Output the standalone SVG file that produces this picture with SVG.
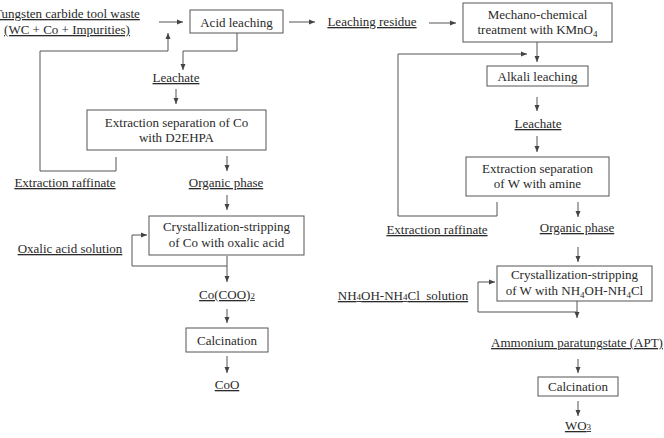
<svg xmlns="http://www.w3.org/2000/svg" width="664" height="438" viewBox="0 0 664 438">
<style>
text{font-family:"Liberation Serif",Tinos,"Times New Roman",Times,"DejaVu Serif",serif;font-size:13px;fill:#2a2a2a;text-anchor:middle}
.u{text-decoration:underline}
.box{fill:#fff;stroke:#555;stroke-width:1}
.c{fill:none;stroke:#555;stroke-width:1}
</style>
<defs>
<marker id="ah" markerWidth="6" markerHeight="6" refX="6" refY="3" orient="auto" markerUnits="userSpaceOnUse">
<path d="M0,0.5 L6,3 L0,5.5 z" fill="#444"/>
</marker>
</defs>
<rect width="664" height="438" fill="#fff"/>
<g id="connectors">
<path class="c" d="M159,22 H183" marker-end="url(#ah)"/>
<path class="c" d="M289,22 H315" marker-end="url(#ah)"/>
<path class="c" d="M237,33 V51 H183 V70" marker-end="url(#ah)"/>
<path class="c" d="M176,89 V104" marker-end="url(#ah)"/>
<path class="c" d="M116,157 V171 H40 V51 H168 V33" marker-end="url(#ah)"/>
<path class="c" d="M227,156 V171" marker-end="url(#ah)"/>
<path class="c" d="M227,195 V210" marker-end="url(#ah)"/>
<path class="c" d="M227,266 H132 V235 H147" marker-end="url(#ah)"/>
<path class="c" d="M227,256 V282" marker-end="url(#ah)"/>
<path class="c" d="M227,309 V323" marker-end="url(#ah)"/>
<path class="c" d="M227,356 V373" marker-end="url(#ah)"/>
<path class="c" d="M429,23 H456" marker-end="url(#ah)"/>
<path class="c" d="M537,42 V62" marker-end="url(#ah)"/>
<path class="c" d="M497,202 V216 H398 V54 H527" marker-end="url(#ah)"/>
<path class="c" d="M537,97 V111" marker-end="url(#ah)"/>
<path class="c" d="M537,136 V152" marker-end="url(#ah)"/>
<path class="c" d="M578,202 V217" marker-end="url(#ah)"/>
<path class="c" d="M578,247 V262" marker-end="url(#ah)"/>
<path class="c" d="M577,312 H478 V282 H495" marker-end="url(#ah)"/>
<path class="c" d="M577,301 V318" marker-end="url(#ah)"/>
<path class="c" d="M578,359 V373" marker-end="url(#ah)"/>
<path class="c" d="M578,401 V416" marker-end="url(#ah)"/>
</g>
<g id="waste"><text class="u" x="67" y="18">Tungsten carbide tool waste</text><text class="u" x="67" y="34">(WC + Co + Impurities)</text></g>
<g id="acid-leaching"><rect class="box" x="190" y="10" width="93" height="23"/><text x="236.5" y="27">Acid leaching</text></g>
<g id="leaching-residue"><text class="u" x="372" y="26">Leaching residue</text></g>
<g id="leachate-co"><text class="u" x="176" y="82">Leachate</text></g>
<g id="extraction-co"><rect class="box" x="87" y="110" width="179" height="40"/><text x="176.5" y="127">Extraction separation of Co</text><text x="176.5" y="142">with D2EHPA</text></g>
<g id="raffinate-co"><text class="u" x="65" y="187">Extraction raffinate</text></g>
<g id="organic-co"><text class="u" x="226" y="187">Organic phase</text></g>
<g id="cryst-co"><rect class="box" x="149" y="216" width="155" height="39"/><text x="226.5" y="231">Crystallization-stripping</text><text x="226.5" y="247">of Co with oxalic acid</text></g>
<g id="oxalic"><text class="u" x="70" y="253">Oxalic acid solution</text></g>
<g id="cooxalate"><text class="u" x="227" y="299">Co(COO)<tspan font-size="9">2</tspan></text></g>
<g id="calc-co"><rect class="box" x="186" y="328" width="82" height="24"/><text x="227" y="345">Calcination</text></g>
<g id="coo"><text class="u" x="227" y="389">CoO</text></g>
<g id="mechano"><rect class="box" x="463" y="3" width="149" height="39"/><text x="537.5" y="19">Mechano-chemical</text><text x="537.5" y="34">treatment with KMnO<tspan font-size="9" dy="3">4</tspan></text></g>
<g id="alkali"><rect class="box" x="487" y="66" width="101" height="20"/><text x="537.5" y="81">Alkali leaching</text></g>
<g id="leachate-w"><text class="u" x="538" y="128">Leachate</text></g>
<g id="extraction-w"><rect class="box" x="466" y="157" width="143" height="39"/><text x="537.5" y="173">Extraction separation</text><text x="537.5" y="188">of W with amine</text></g>
<g id="raffinate-w"><text class="u" x="437" y="234">Extraction raffinate</text></g>
<g id="organic-w"><text class="u" x="577" y="232">Organic phase</text></g>
<g id="cryst-w"><rect class="box" x="497" y="266" width="155" height="35"/><text x="574.5" y="279">Crystallization-stripping</text><text x="574.5" y="295">of W with NH<tspan font-size="9" dy="3">4</tspan><tspan dy="-3">OH-NH</tspan><tspan font-size="9" dy="3">4</tspan><tspan dy="-3">Cl</tspan></text></g>
<g id="nh4-solution"><text class="u" x="403" y="300" xml:space="preserve">NH<tspan font-size="9">4</tspan>OH-NH<tspan font-size="9">4</tspan>Cl  solution</text></g>
<g id="apt"><text class="u" x="577" y="347">Ammonium paratungstate (APT)</text></g>
<g id="calc-w"><rect class="box" x="538" y="377" width="80" height="19"/><text x="578" y="391">Calcination</text></g>
<g id="wo3"><text class="u" x="578" y="430">WO<tspan font-size="9">3</tspan></text></g>
</svg>
